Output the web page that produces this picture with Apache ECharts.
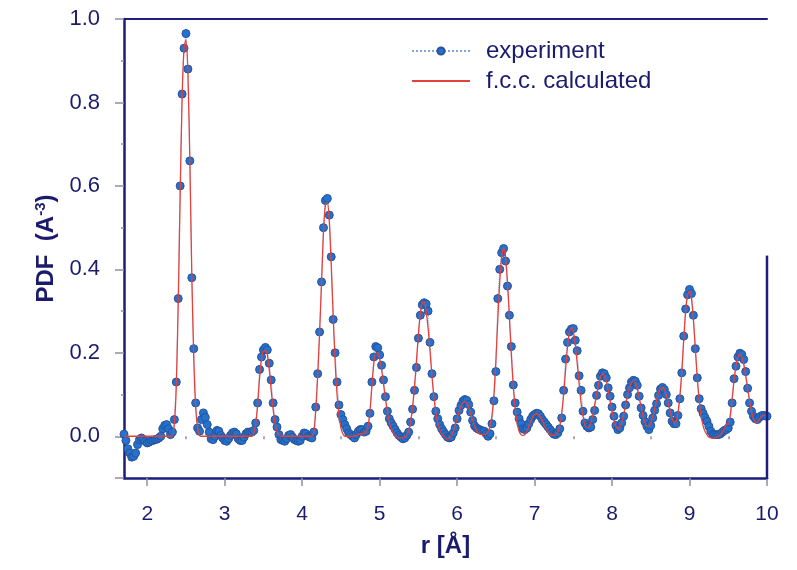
<!DOCTYPE html>
<html>
<head>
<meta charset="utf-8">
<script src="https://cdn.jsdelivr.net/npm/echarts@6/dist/echarts.min.js"></script>
<style>html,body{margin:0;padding:0;background:#fff;}#c{width:797px;height:570px;}</style>
</head>
<body>
<div id="c"></div>
<script>
// sampling grid of r (Å)
var rStart = 1.7;
var rStep = 0.025;

// experiment PDF values, one row per 0.1 Å (4 samples)
var expValues = [
  0.005, -0.01, -0.03, -0.04,
  -0.05, -0.048, -0.04, -0.02,
  -0.008, -0.004, -0.008, -0.012,
  -0.016, -0.014, -0.01, -0.01,
  -0.008, -0.007, -0.004, 0.0,
  0.018, 0.026, 0.028, 0.018,
  0.004, 0.01, 0.04, 0.13,
  0.33, 0.60, 0.82, 0.93,
  0.965, 0.88, 0.66, 0.38,
  0.21, 0.08, 0.02, 0.012,
  0.04, 0.056, 0.045, 0.028,
  0.01, -0.006, -0.008, 0.0,
  0.014, 0.012, 0.002, -0.004,
  -0.01, -0.012, -0.006, 0.002,
  0.008, 0.01, 0.006, -0.006,
  -0.01, -0.01, -0.002, 0.006,
  0.01, 0.01, 0.01, 0.014,
  0.032, 0.08, 0.16, 0.19,
  0.207, 0.213, 0.207, 0.175,
  0.135, 0.08, 0.04, 0.022,
  0.004, -0.008, -0.01, -0.012,
  -0.006, 0.002, 0.004, -0.002,
  -0.008, -0.01, -0.012, -0.01,
  0.0, 0.008, 0.006, 0.0,
  -0.002, -0.004, 0.01, 0.07,
  0.15, 0.25, 0.37, 0.50,
  0.565, 0.57, 0.53, 0.43,
  0.28, 0.20, 0.13, 0.075,
  0.052, 0.04, 0.028, 0.018,
  0.008, 0.004, 0.0, -0.004,
  0.004, 0.012, 0.016, 0.016,
  0.01, 0.012, 0.024, 0.055,
  0.13, 0.19, 0.215, 0.212,
  0.195, 0.17, 0.135, 0.095,
  0.06, 0.042, 0.032, 0.024,
  0.016, 0.008, 0.002, -0.002,
  -0.006, -0.004, 0.002, 0.01,
  0.034, 0.065, 0.11, 0.165,
  0.235, 0.29, 0.315, 0.32,
  0.317, 0.30, 0.225, 0.15,
  0.095, 0.06, 0.042, 0.028,
  0.018, 0.011, 0.004, -0.002,
  -0.004, -0.002, 0.008, 0.02,
  0.042, 0.062, 0.074, 0.084,
  0.088, 0.086, 0.076, 0.058,
  0.038, 0.025, 0.02, 0.017,
  0.015, 0.013, 0.012, 0.006,
  0.0, 0.006, 0.03, 0.085,
  0.155, 0.33, 0.40, 0.44,
  0.45, 0.42, 0.36, 0.29,
  0.215, 0.123, 0.08, 0.058,
  0.042, 0.03, 0.018, 0.016,
  0.02, 0.03, 0.04, 0.048,
  0.052, 0.055, 0.054, 0.048,
  0.04, 0.034, 0.028, 0.022,
  0.016, 0.01, 0.005, 0.004,
  0.008, 0.018, 0.044, 0.11,
  0.185, 0.225, 0.25, 0.257,
  0.258, 0.23, 0.205, 0.145,
  0.11, 0.06, 0.032, 0.024,
  0.02, 0.022, 0.04, 0.062,
  0.098, 0.122, 0.144, 0.152,
  0.15, 0.14, 0.116, 0.096,
  0.07, 0.048, 0.026, 0.016,
  0.02, 0.032, 0.048, 0.075,
  0.10, 0.116, 0.13, 0.134,
  0.132, 0.122, 0.096, 0.068,
  0.05, 0.035, 0.024, 0.016,
  0.026, 0.044, 0.062, 0.078,
  0.098, 0.113, 0.117, 0.112,
  0.10, 0.08, 0.056, 0.036,
  0.03, 0.03, 0.05, 0.09,
  0.152, 0.24, 0.305, 0.339,
  0.352, 0.342, 0.29, 0.21,
  0.14, 0.09, 0.066, 0.055,
  0.045, 0.036, 0.024, 0.012,
  0.005, 0.004, 0.004, 0.004,
  0.006, 0.01, 0.014, 0.016,
  0.02, 0.034, 0.08, 0.138,
  0.168, 0.19, 0.199, 0.196,
  0.184, 0.155, 0.115, 0.08,
  0.06, 0.048, 0.042, 0.04,
  0.045, 0.049, 0.05, 0.049,
  0.048
];

// f.c.c. calculated PDF values, same grid
var calcValues = [
  0, 0, 0, 0,
  0, 0, 0, 0,
  0, 0, 0, 0,
  0, 0, 0, 0,
  0, 0, 0, 0,
  0, 0, 0, 0,
  0, 0, 0.03, 0.12,
  0.32, 0.58, 0.81, 0.93,
  0.95, 0.87, 0.66, 0.39,
  0.19, 0.07, 0.02, 0.002,
  0, 0, 0, 0,
  0, 0, 0, 0,
  0, 0, 0, 0,
  0, 0, 0, 0,
  0, 0, 0, 0,
  0, 0, 0, 0,
  0, 0, 0, 0.008,
  0.03, 0.075, 0.14, 0.185,
  0.205, 0.205, 0.195, 0.16,
  0.11, 0.065, 0.03, 0.012,
  0.004, 0, 0, 0,
  0, 0, 0, 0,
  0, 0, 0, 0,
  0, 0, 0, 0,
  0, 0, 0.01, 0.06,
  0.145, 0.25, 0.37, 0.49,
  0.555, 0.56, 0.515, 0.41,
  0.29, 0.18, 0.10, 0.05,
  0.02, 0.006, 0, 0,
  0, 0, 0, 0,
  0.002, 0.004, 0.006, 0.006,
  0.006, 0.01, 0.024, 0.06,
  0.12, 0.175, 0.20, 0.20,
  0.185, 0.16, 0.125, 0.09,
  0.058, 0.034, 0.018, 0.008,
  0.002, -0.002, -0.004, -0.004,
  -0.004, -0.002, 0.002, 0.012,
  0.035, 0.07, 0.12, 0.18,
  0.245, 0.295, 0.32, 0.322,
  0.30, 0.26, 0.205, 0.145,
  0.095, 0.058, 0.032, 0.016,
  0.006, 0, -0.004, -0.006,
  -0.004, 0.002, 0.012, 0.026,
  0.042, 0.058, 0.072, 0.08,
  0.083, 0.08, 0.07, 0.054,
  0.038, 0.024, 0.014, 0.008,
  0.005, 0.004, 0.004, 0.006,
  0.012, 0.025, 0.05, 0.1,
  0.18, 0.28, 0.37, 0.43,
  0.45, 0.43, 0.37, 0.285,
  0.195, 0.12, 0.065, 0.03,
  0.012, 0.004, 0.002, 0.004,
  0.012, 0.024, 0.036, 0.046,
  0.052, 0.054, 0.052, 0.046,
  0.037, 0.027, 0.018, 0.01,
  0.005, 0.002, 0.002, 0.004,
  0.01, 0.025, 0.055, 0.1,
  0.16, 0.215, 0.25, 0.26,
  0.25, 0.22, 0.175, 0.125,
  0.08, 0.048, 0.028, 0.02,
  0.022, 0.032, 0.05, 0.075,
  0.1, 0.124, 0.142, 0.15,
  0.146, 0.132, 0.11, 0.085,
  0.06, 0.038, 0.024, 0.018,
  0.022, 0.034, 0.052, 0.075,
  0.098, 0.117, 0.129, 0.133,
  0.128, 0.114, 0.093, 0.07,
  0.048, 0.032, 0.024, 0.024,
  0.032, 0.047, 0.066, 0.086,
  0.103, 0.114, 0.117, 0.112,
  0.099, 0.08, 0.06, 0.042,
  0.032, 0.034, 0.055, 0.095,
  0.155, 0.23, 0.3, 0.34,
  0.348, 0.33, 0.28, 0.21,
  0.14, 0.085, 0.048, 0.025,
  0.012, 0.004, -0.002, -0.004,
  -0.005, -0.004, -0.002, 0,
  0.004, 0.01, 0.018, 0.03,
  0.028, 0.05, 0.09, 0.135,
  0.17, 0.19, 0.197, 0.19,
  0.172, 0.145, 0.115, 0.085,
  0.06, 0.042, 0.034, 0.034,
  0.04, 0.046, 0.05, 0.05,
  0.05
];

// tick labels
var xMajorTicks = [2, 3, 4, 5, 6, 7, 8, 9, 10];
var xMinorTicks = [2.5, 3.5, 4.5, 5.5, 6.5, 7.5, 8.5, 9.5];
var yLabelTicks = [0, 0.2, 0.4, 0.6, 0.8, 1.0];
var yMajorTicks = [-0.1, 0, 0.2, 0.4, 0.6, 0.8, 1.0];
var yMinorTicks = [0.1, 0.3, 0.5, 0.7, 0.9];
var seriesNames = ['experiment', 'f.c.c. calculated'];

var navy = '#1b1b6e';
var axisNavy = '#1d1d7c';
var tickGray = '#8e8ea6';
var font = "'Liberation Sans', Arial, sans-serif";

function rAt(i) { return +(rStart + i * rStep).toFixed(4); }
var expData = expValues.map(function (v, i) { return [rAt(i), v]; });
var calcData = calcValues.map(function (v, i) { return [rAt(i), v]; });

var chart = echarts.init(document.getElementById('c'), null, { renderer: 'canvas' });

var option = {
  backgroundColor: '#ffffff',
  animation: false,
  textStyle: { fontFamily: font },
  grid: { left: 124, right: 30, top: 19, bottom: 92, containLabel: false },
  legend: {
    data: [
      { name: seriesNames[0] },
      { name: seriesNames[1], itemStyle: { opacity: 0 } }
    ],
    orient: 'vertical',
    left: 406,
    top: 34,
    itemWidth: 58,
    itemHeight: 9,
    itemGap: 6,
    textStyle: { fontSize: 24, color: navy, fontFamily: font, padding: [0, 0, 0, 11] }
  },
  xAxis: [
    {
      type: 'value', min: 1.7, max: 10, position: 'bottom',
      name: 'r [Å]', nameLocation: 'middle', nameGap: 56,
      nameTextStyle: { fontSize: 24, fontWeight: 'bold', color: navy, fontFamily: font },
      axisLine: { show: true, onZero: false, lineStyle: { color: axisNavy, width: 2.5 } },
      axisTick: { show: true, length: 8, customValues: xMajorTicks, lineStyle: { color: tickGray, width: 1.5 } },
      axisLabel: { customValues: xMajorTicks, fontSize: 21, color: navy, margin: 26, fontFamily: font },
      splitLine: { show: false }
    },
    {
      type: 'value', min: 1.7, max: 10, position: 'bottom',
      axisLine: { show: false },
      axisTick: { show: true, length: 3, customValues: xMinorTicks, lineStyle: { color: tickGray, width: 1.5 } },
      axisLabel: { show: false },
      splitLine: { show: false }
    },
    {
      type: 'value', min: 1.7, max: 10, position: 'top',
      axisLine: { show: true, onZero: false, lineStyle: { color: axisNavy, width: 2 } },
      axisTick: { show: false },
      axisLabel: { show: false },
      splitLine: { show: false }
    }
  ],
  yAxis: [
    {
      type: 'value', min: -0.1, max: 1.0, position: 'left',
      name: 'PDF  (A{sup|-3})', nameLocation: 'middle', nameGap: 64, nameRotate: 90,
      nameTextStyle: {
        fontSize: 24, fontWeight: 'bold', color: navy, fontFamily: font,
        rich: { sup: { fontSize: 15, fontWeight: 'bold', color: navy, fontFamily: font, padding: [0, 0, 12, 0] } }
      },
      axisLine: { show: true, onZero: false, lineStyle: { color: axisNavy, width: 2.5 } },
      axisTick: { show: true, length: 9, customValues: yMajorTicks, lineStyle: { color: tickGray, width: 1.5 } },
      axisLabel: {
        customValues: yLabelTicks, fontSize: 22, color: navy, margin: 24, fontFamily: font,
        formatter: function (v) { return v.toFixed(1); }
      },
      splitLine: { show: false }
    },
    {
      type: 'value', min: -0.1, max: 1.0, position: 'left',
      axisLine: { show: false },
      axisTick: { show: true, length: 3, customValues: yMinorTicks, lineStyle: { color: tickGray, width: 1.5 } },
      axisLabel: { show: false },
      splitLine: { show: false }
    }
  ],
  series: [
    {
      name: seriesNames[0],
      type: 'line',
      data: expData,
      xAxisIndex: 0, yAxisIndex: 0,
      symbol: 'circle',
      symbolSize: 8,
      showSymbol: true,
      showAllSymbol: true,
      lineStyle: { type: 'dotted', width: 1, color: '#7fa8dc' },
      itemStyle: { color: '#2272d0', borderColor: '#2c5298', borderWidth: 1 },
      z: 2
    },
    {
      name: seriesNames[1],
      type: 'line',
      data: calcData,
      xAxisIndex: 0, yAxisIndex: 0,
      symbol: 'none',
      smooth: 0.25,
      lineStyle: { color: '#e4403c', width: 1.3 },
      itemStyle: { color: '#e4403c' },
      z: 3
    }
  ]
};
chart.setOption(option);

// partial right frame line (lower part only, as in the original figure)
var pTop = chart.convertToPixel({ gridIndex: 0 }, [10, 0.433]);
var pBot = chart.convertToPixel({ gridIndex: 0 }, [10, -0.1]);
chart.setOption({
  graphic: [{
    type: 'line',
    shape: { x1: pTop[0], y1: pTop[1], x2: pBot[0], y2: pBot[1] + 1 },
    style: { stroke: axisNavy, lineWidth: 2.5 },
    z: 10
  }]
});
</script>
</body>
</html>
